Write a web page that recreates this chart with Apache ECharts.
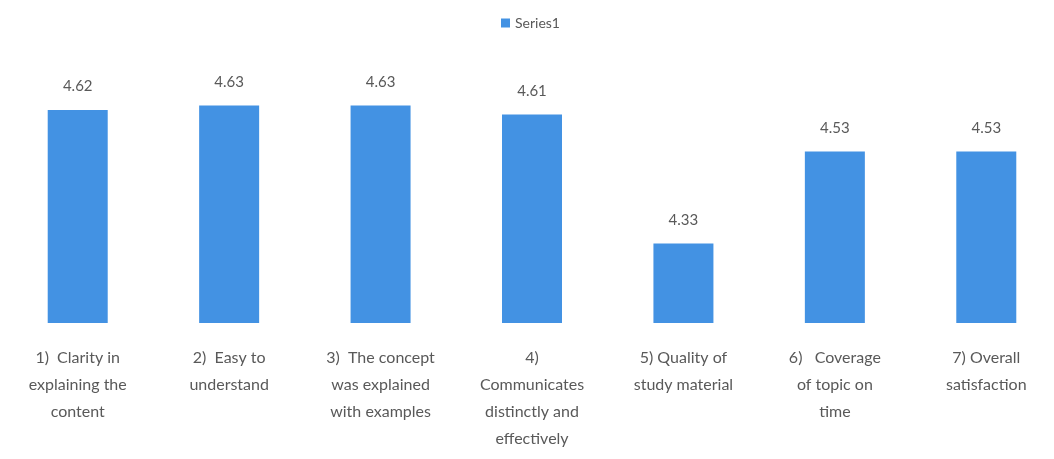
<!DOCTYPE html>
<html>
<head>
<meta charset="utf-8">
<script src="https://cdn.jsdelivr.net/npm/echarts@6/dist/echarts.min.js"></script>
<style>
  html, body { margin: 0; padding: 0; background: #fff; }
  #chart { width: 1054px; height: 459px; }
</style>
</head>
<body>
<div id="chart"></div>
<script>
// categories (line breaks as in the original labels)
const categories = [
  "1)  Clarity in\nexplaining the\ncontent",
  "2)  Easy to\nunderstand",
  "3)  The concept\nwas explained\nwith examples",
  "4)\nCommunicates\ndistinctly and\neffectively",
  "5) Quality of\nstudy material",
  "6)   Coverage\nof topic on\ntime",
  "7) Overall\nsatisfaction"
]
const seriesName = "Series1"
const values = [4.62, 4.63, 4.63, 4.61, 4.33, 4.53, 4.53]

const textColor = "#595959"
const barColor = "#4392e3"

const chart = echarts.init(document.getElementById("chart"))

chart.setOption({
  animation: false,
  legend: {
    data: [seriesName],
    top: 11,
    left: 496,
    itemWidth: 9,
    itemHeight: 9,
    icon: "rect",
    itemGap: 6,
    textStyle: { color: textColor, fontSize: 14, fontFamily: "Lato" }
  },
  grid: {
    left: 2,
    right: -8,
    top: 70,
    bottom: 136,
    outerBoundsMode: "none"
  },
  xAxis: {
    type: "category",
    data: categories,
    axisLine: { show: false },
    axisTick: { show: false },
    axisLabel: {
      interval: 0,
      margin: 21,
      color: textColor,
      fontSize: 16,
      lineHeight: 27,
      fontFamily: "Lato",
      align: "center"
    }
  },
  yAxis: {
    type: "value",
    min: 4.157,
    max: 4.707,
    show: false,
    splitLine: { show: false }
  },
  series: [
    {
      name: seriesName,
      type: "bar",
      data: values,
      barWidth: 60,
      itemStyle: { color: barColor },
      label: {
        show: true,
        position: "top",
        distance: 16,
        color: textColor,
        fontSize: 15,
        fontFamily: "Lato",
        formatter: (p) => p.value.toFixed(2)
      }
    }
  ]
})
</script>
</body>
</html>
